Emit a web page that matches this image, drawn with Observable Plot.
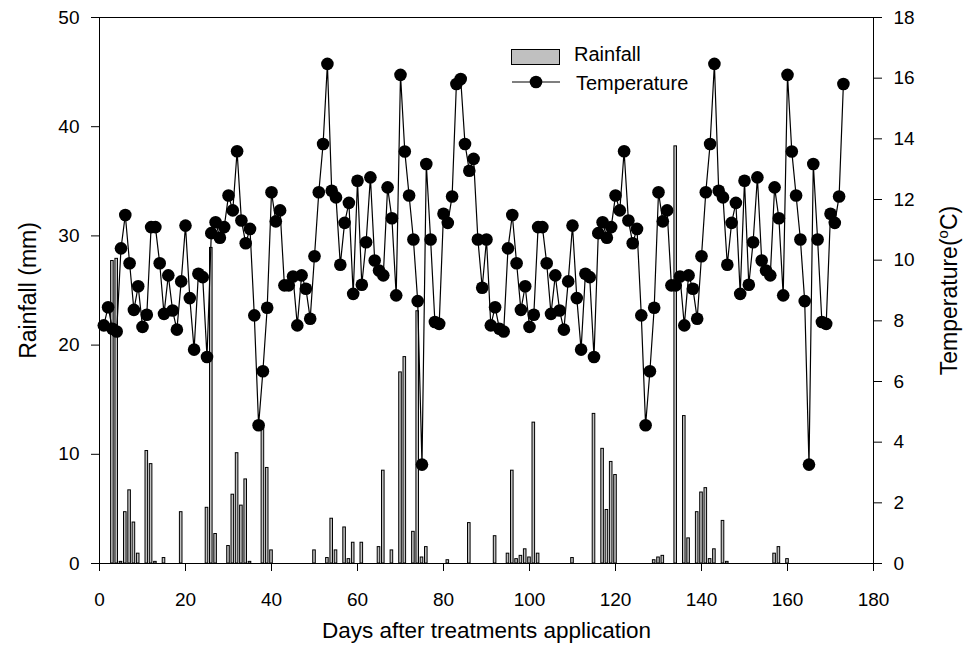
<!DOCTYPE html>
<html>
<head>
<meta charset="utf-8">
<script src="https://cdn.jsdelivr.net/npm/d3@7"></script>
<script src="https://cdn.jsdelivr.net/npm/@observablehq/plot@0.6"></script>
<style>
  html, body { margin: 0; padding: 0; background: white; }
  #chart { width: 975px; height: 655px; }
</style>
</head>
<body>
<div id="chart"></div>
<script>
// Rainfall (mm) per day after treatments application
const rainDays = [3,4,5,6,7,8,9,11,12,13,15,19,25,26,27,30,31,32,33,34,35,38,39,40,
  50,53,54,55,57,58,59,61,65,66,68,70,71,73,74,75,76,81,86,
  92,95,96,97,98,99,100,101,102,110,115,117,118,119,120,
  129,130,131,134,136,137,139,140,141,142,143,145,146,157,158,160];
const rainValues = [27.7,27.9,0.15,4.7,6.7,3.75,0.9,10.3,9.1,0.15,0.5,4.7,5.1,28.9,2.7,1.6,6.3,10.1,5.3,7.7,0.15,12.5,8.75,1.2,
  1.2,0.5,4.1,1.2,3.3,0.4,1.9,1.9,1.5,8.5,1.2,17.5,18.9,2.9,23.1,0.55,1.5,0.3,3.7,
  2.5,0.9,8.5,0.4,0.7,1.3,0.55,12.9,0.9,0.5,13.7,10.5,4.9,9.3,8.1,
  0.3,0.55,0.7,38.2,13.5,2.3,4.7,6.5,6.9,0.4,1.3,3.9,0.15,0.9,1.5,0.4];

// Daily temperature (°C), days 1..173
const tempValues = [
  7.85,8.45,7.74,7.65,10.39,11.49,9.90,8.36,9.14,7.80,
  8.20,11.09,11.09,9.90,8.23,9.50,8.34,7.71,9.30,11.14,
  8.75,7.05,9.55,9.44,6.81,10.89,11.25,10.74,11.09,12.13,
  11.64,13.59,11.31,10.56,11.03,8.18,4.56,6.34,8.43,12.24,
  11.28,11.64,9.17,9.17,9.46,7.85,9.50,9.06,8.07,10.13,
  12.24,13.83,16.47,12.29,12.07,9.85,11.23,11.89,8.89,12.62,
  9.19,10.59,12.73,9.99,9.66,9.50,12.40,11.38,8.84,16.11,
  13.58,12.13,10.68,8.65,3.26,13.17,10.68,7.96,7.90,11.53,
  11.23,12.10,15.81,15.97,13.83,12.95,13.34,10.68,9.09,10.68,
  7.85,8.45,7.74,7.65,10.39,11.49,9.90,8.36,9.14,7.80,
  8.20,11.09,11.09,9.90,8.23,9.50,8.34,7.71,9.30,11.14,
  8.75,7.05,9.55,9.44,6.81,10.89,11.25,10.74,11.09,12.13,
  11.64,13.59,11.31,10.56,11.03,8.18,4.56,6.34,8.43,12.24,
  11.28,11.64,9.17,9.17,9.46,7.85,9.50,9.06,8.07,10.13,
  12.24,13.83,16.47,12.29,12.07,9.85,11.23,11.89,8.89,12.62,
  9.19,10.59,12.73,9.99,9.66,9.50,12.40,11.38,8.84,16.11,
  13.58,12.13,10.68,8.65,3.26,13.17,10.68,7.96,7.90,11.53,
  11.23,12.10,15.81
];

const xTicks = [0,20,40,60,80,100,120,140,160,180];
const rainTicks = [0,10,20,30,40,50];
const tempTicks = [0,2,4,6,8,10,12,14,16,18];
const xTitle = "Days after treatments application";
const leftTitle = "Rainfall (mm)";
const rightTitle = "Temperature(oC)";
const legendLabels = ["Rainfall", "Temperature"];

const rainMax = 50, tempMax = 18;
const toRain = t => t * rainMax / tempMax;

const rain = rainDays.map((d, i) => ({day: d, rain: rainValues[i]}));
const temp = tempValues.map((t, i) => ({day: i + 1, temp: t}));

const font = "'Liberation Sans', Arial, sans-serif";

const chart = Plot.plot({
  width: 975,
  height: 655,
  marginLeft: 99,
  marginRight: 102,
  marginTop: 17,
  marginBottom: 92,
  style: {fontFamily: font, fontSize: "19px", color: "black", background: "white"},
  x: {domain: [0, 180]},
  y: {domain: [0, rainMax]},
  marks: [
    Plot.rectY(rain, {x1: d => d.day - 0.3, x2: d => d.day + 0.3, y1: 0, y2: "rain",
      fill: "#c0c0c0", stroke: "black", strokeWidth: 1}),
    Plot.line(temp, {x: "day", y: d => toRain(d.temp), stroke: "black", strokeWidth: 1.2}),
    Plot.dot(temp, {x: "day", y: d => toRain(d.temp), r: 6.3, fill: "black", stroke: "none"}),
    Plot.axisX({ticks: xTicks, tickSize: 8, tickPadding: 21, label: null, tickFormat: d => String(d)}),
    Plot.axisY({ticks: rainTicks, tickSize: 8, tickPadding: 12, label: null, tickFormat: d => String(d)}),
    Plot.axisY({anchor: "right", ticks: tempTicks.map(toRain), tickSize: 8, tickPadding: 12, label: null,
      tickFormat: d => String(Math.round(d * tempMax / rainMax))}),
    Plot.frame({stroke: "black", strokeWidth: 1}),
    Plot.text([xTitle], {text: d => d, frameAnchor: "bottom", textAnchor: "middle", dy: 74, fontSize: 22.5}),
    Plot.text([leftTitle], {text: d => d, frameAnchor: "left", textAnchor: "middle", dx: -71, rotate: -90, fontSize: 23}),
    Plot.text([rightTitle], {text: d => d, frameAnchor: "right", textAnchor: "middle", dx: 76, rotate: -90, fontSize: 23})
  ]
});

document.getElementById("chart").appendChild(chart);

const svg = d3.select(chart);
// superscript "o" in the right axis title
svg.selectAll("text").filter(function() { return this.textContent === rightTitle; })
  .each(function() {
    const t = d3.select(this);
    t.text(null);
    t.append("tspan").text("Temperature(");
    t.append("tspan").attr("dy", -9).attr("font-size", 15).text("o");
    t.append("tspan").attr("dy", 9).text("C)");
  });

// legend
const lg = svg.append("g").attr("font-family", font).attr("font-size", 20).attr("text-anchor", "start");
lg.append("rect").attr("x", 511.5).attr("y", 49.5).attr("width", 48).attr("height", 15)
  .attr("fill", "#c0c0c0").attr("stroke", "black");
lg.append("text").attr("x", 574).attr("y", 54).attr("dy", "0.35em").text(legendLabels[0]);
lg.append("line").attr("x1", 512).attr("x2", 560).attr("y1", 82).attr("y2", 82)
  .attr("stroke", "black").attr("stroke-width", 1.2);
lg.append("circle").attr("cx", 536).attr("cy", 82).attr("r", 6.3).attr("fill", "black");
lg.append("text").attr("x", 576).attr("y", 83).attr("dy", "0.35em").text(legendLabels[1]);
</script>
</body>
</html>
